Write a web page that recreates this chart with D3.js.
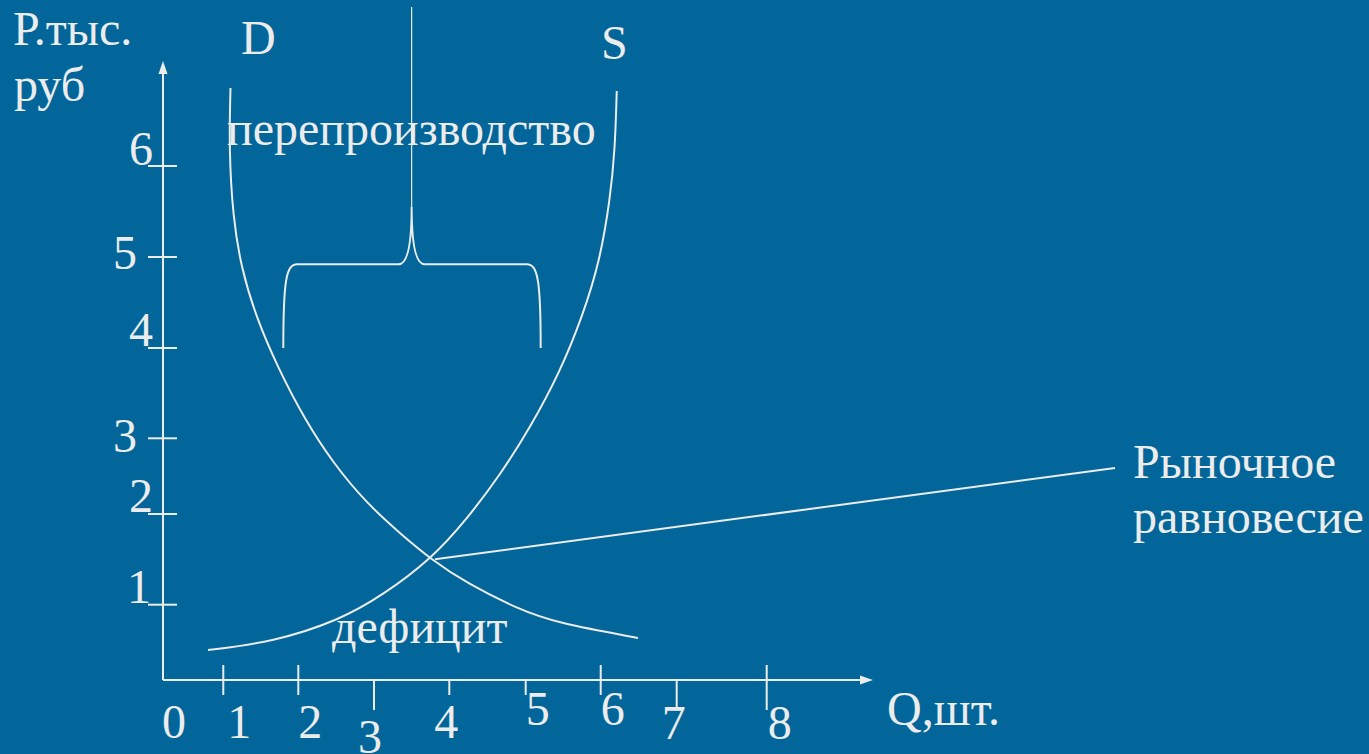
<!DOCTYPE html>
<html>
<head>
<meta charset="utf-8">
<script src="https://cdn.jsdelivr.net/npm/d3@7"></script>
<style>
  html, body { margin: 0; padding: 0; background: #02669a; }
  svg { display: block; }
  text { font-family: "Liberation Serif", "Times New Roman", serif; fill: #ececec; font-size: 48px; }
</style>
</head>
<body>
<svg id="chart" width="1369" height="754"></svg>
<script>
// axis tick values
const qTicks = [1, 2, 3, 4, 5, 6, 7, 8];
const pTicks = [1, 2, 3, 4, 5, 6];

// demand curve D (Q, P)
const demandQ = [1.096, 1.076, 1.129, 1.236, 1.436, 1.729, 2.089, 2.462, 2.904, 3.345, 3.757, 4.228, 4.925, 5.417, 6.491];
const demandP = [6.857, 6.176, 5.440, 4.890, 4.341, 3.779, 3.203, 2.670, 2.141, 1.787, 1.501, 1.236, 0.930, 0.757, 0.558];

// supply curve S
const supplyQ = [0.746, 1.663, 2.551, 3.120, 3.757, 4.232, 4.664, 5.057, 5.457, 5.764, 5.991, 6.122, 6.188, 6.211];
const supplyP = [0.398, 0.505, 0.797, 1.107, 1.501, 1.945, 2.515, 3.114, 3.734, 4.363, 4.967, 5.626, 6.176, 6.824];

// market equilibrium (Q, P)
const equilibrium = [3.757, 1.501];

// brace over the surplus: left, middle, right Q and bottom, level, tip P
const braceQ = [1.80, 3.50, 5.20];
const braceP = [4.00, 4.92, 5.55];

let svg = d3.select("#chart");
let ink = "#ececec";

// the hand drawn axes have uneven steps, so the scales are piecewise
let x = d3.scaleLinear()
  .domain([0, 1, 2, 3, 4, 5, 6, 7, 8])
  .range([163, 223.3, 298.3, 374, 449.3, 525.7, 600.7, 676.7, 766.7]);
let y = d3.scaleLinear()
  .domain([0, 1, 2, 3, 4, 5, 6])
  .range([680, 604.7, 514, 438.3, 348, 257, 166]);

let axisEndX = 873, axisEndY = 61;

// axes with arrow heads
let axes = svg.append("g").attr("stroke", ink).attr("stroke-width", 2);
axes.append("line").attr("x1", x(0)).attr("y1", y(0)).attr("x2", x(0)).attr("y2", axisEndY + 8);
axes.append("line").attr("x1", x(0)).attr("y1", y(0)).attr("x2", axisEndX - 8).attr("y2", y(0));
svg.append("path")
  .attr("d", `M${x(0)},${axisEndY} L${x(0) - 4.5},${axisEndY + 13} L${x(0) + 4.5},${axisEndY + 13} Z`)
  .attr("fill", ink);
svg.append("path")
  .attr("d", `M${axisEndX},${y(0)} L${axisEndX - 13},${y(0) - 4.5} L${axisEndX - 13},${y(0) + 4.5} Z`)
  .attr("fill", ink);

// x ticks: span above/below axis and label placement differ per tick
let qTickLayout = [
  {up: 15, down: 15, dx: 4, base: 738},
  {up: 15, down: 15, dx: 0, base: 738},
  {up: 0, down: 30, dx: -16, base: 753},
  {up: 0, down: 15, dx: -15, base: 738},
  {up: 0, down: 15, dx: 0, base: 725},
  {up: 15, down: 15, dx: 0, base: 725},
  {up: 0, down: 30, dx: -15, base: 739},
  {up: 15, down: 30, dx: 1, base: 739}
];

let qTickG = svg.append("g").selectAll("g")
  .data(qTicks)
  .enter().append("g");
qTickG.append("line")
  .attr("x1", d => x(d)).attr("x2", d => x(d))
  .attr("y1", (d, i) => y(0) - qTickLayout[i].up)
  .attr("y2", (d, i) => y(0) + qTickLayout[i].down)
  .attr("stroke", ink).attr("stroke-width", 2);
qTickG.append("text")
  .attr("x", (d, i) => x(d) + qTickLayout[i].dx)
  .attr("y", (d, i) => qTickLayout[i].base)
  .text(d => d);
svg.append("text").attr("x", x(0) - 1).attr("y", 738).text("0");

// y ticks
let pLabelLayout = [
  {right: 151, dy: -2},
  {right: 153, dy: -2},
  {right: 137, dy: 14},
  {right: 153, dy: -2},
  {right: 137, dy: 12},
  {right: 153, dy: -1}
];
let pTickG = svg.append("g").selectAll("g")
  .data(pTicks)
  .enter().append("g");
pTickG.append("line")
  .attr("x1", x(0) - 15).attr("x2", x(0) + 14)
  .attr("y1", d => y(d)).attr("y2", d => y(d))
  .attr("stroke", ink).attr("stroke-width", 2);
pTickG.append("text")
  .attr("x", (d, i) => pLabelLayout[i].right)
  .attr("y", (d, i) => y(d) + pLabelLayout[i].dy)
  .attr("text-anchor", "end")
  .text(d => d);

// curves (b-spline smooths out the reading noise)
let line = d3.line()
  .x(d => x(d[0]))
  .y(d => y(d[1]))
  .curve(d3.curveBasis);

svg.append("path")
  .datum(demandQ.map((q, i) => [q, demandP[i]]))
  .attr("d", line)
  .attr("fill", "none").attr("stroke", ink).attr("stroke-width", 2);
svg.append("path")
  .datum(supplyQ.map((q, i) => [q, supplyP[i]]))
  .attr("d", line)
  .attr("fill", "none").attr("stroke", ink).attr("stroke-width", 2);

// leader from the equilibrium point to its label
let labelX = 1133;
svg.append("line")
  .attr("x1", x(equilibrium[0]) + 4).attr("y1", y(equilibrium[1]))
  .attr("x2", labelX - 18).attr("y2", 468)
  .attr("stroke", ink).attr("stroke-width", 2);

// brace marking the surplus
let bl = x(braceQ[0]), bm = x(braceQ[1]), br = x(braceQ[2]);
let bb = y(braceP[0]), bh = y(braceP[1]), bt = y(braceP[2]);
let brace = d3.path();
brace.moveTo(bl, bb);
brace.bezierCurveTo(bl, bh + 15, bl + 3, bh, bl + 14, bh);
brace.lineTo(bm - 13, bh);
brace.bezierCurveTo(bm - 4, bh, bm, bh - 20, bm, bt);
brace.bezierCurveTo(bm, bh - 20, bm + 4, bh, bm + 13, bh);
brace.lineTo(br - 14, bh);
brace.bezierCurveTo(br - 3, bh, br, bh + 15, br, bb);
svg.append("path")
  .attr("d", brace.toString())
  .attr("fill", "none").attr("stroke", ink).attr("stroke-width", 2);
svg.append("line")
  .attr("x1", bm).attr("x2", bm)
  .attr("y1", bt).attr("y2", 7)
  .attr("stroke", ink).attr("stroke-width", 1.2);

// texts
svg.append("text").attr("x", 13).attr("y", 45).text("Р.тыс.");
svg.append("text").attr("x", 14).attr("y", 101).text("руб");
svg.append("text").attr("x", 241).attr("y", 54).text("D");
svg.append("text").attr("x", 601).attr("y", 59).text("S");
svg.append("text").attr("x", 227).attr("y", 145).text("перепроизводство");
svg.append("text").attr("x", 332).attr("y", 643).text("дефицит");
svg.append("text").attr("x", labelX).attr("y", 478).text("Рыночное");
svg.append("text").attr("x", labelX).attr("y", 533).text("равновесие");
svg.append("text").attr("x", 887).attr("y", 725).text("Q,шт.");
</script>
</body>
</html>
